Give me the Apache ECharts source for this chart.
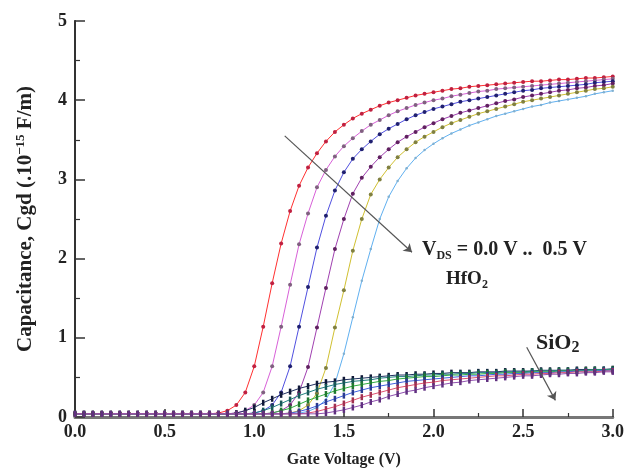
<!DOCTYPE html>
<html>
<head>
<meta charset="utf-8">
<title>Cgd vs Gate Voltage</title>
<script src="https://cdn.jsdelivr.net/npm/echarts@6/dist/echarts.min.js"></script>
<style>
  html, body { margin: 0; padding: 0; background: #fff; }
  #chart { width: 627px; height: 475px; }
</style>
</head>
<body>
<div id="chart"></div>
<script>
// gate voltage (V), one point every 0.05 V
const gateV = [0.00, 0.05, 0.10, 0.15, 0.20, 0.25, 0.30, 0.35, 0.40, 0.45,
  0.50, 0.55, 0.60, 0.65, 0.70, 0.75, 0.80, 0.85, 0.90, 0.95,
  1.00, 1.05, 1.10, 1.15, 1.20, 1.25, 1.30, 1.35, 1.40, 1.45,
  1.50, 1.55, 1.60, 1.65, 1.70, 1.75, 1.80, 1.85, 1.90, 1.95,
  2.00, 2.05, 2.10, 2.15, 2.20, 2.25, 2.30, 2.35, 2.40, 2.45,
  2.50, 2.55, 2.60, 2.65, 2.70, 2.75, 2.80, 2.85, 2.90, 2.95, 3.00]

// HfO2, VDS = 0.0 ... 0.5 V
const hfVds00 = [0.04, 0.04, 0.04, 0.04, 0.04, 0.04, 0.04, 0.04, 0.04, 0.04,
  0.04, 0.04, 0.04, 0.04, 0.04, 0.04, 0.05, 0.08, 0.15, 0.31,
  0.64, 1.14, 1.69, 2.19, 2.60, 2.92, 3.15, 3.33, 3.48, 3.60,
  3.69, 3.77, 3.83, 3.88, 3.93, 3.97, 4.00, 4.03, 4.06, 4.08,
  4.10, 4.12, 4.14, 4.15, 4.17, 4.18, 4.19, 4.20, 4.21, 4.22,
  4.23, 4.24, 4.24, 4.25, 4.26, 4.26, 4.27, 4.28, 4.28, 4.29, 4.30]
const hfVds01 = [0.04, 0.04, 0.04, 0.04, 0.04, 0.04, 0.04, 0.04, 0.04, 0.04,
  0.04, 0.04, 0.04, 0.04, 0.04, 0.04, 0.04, 0.04, 0.05, 0.08,
  0.15, 0.31, 0.64, 1.14, 1.67, 2.18, 2.57, 2.90, 3.12, 3.29,
  3.42, 3.52, 3.61, 3.69, 3.75, 3.81, 3.86, 3.90, 3.94, 3.97,
  4.00, 4.02, 4.05, 4.07, 4.09, 4.11, 4.12, 4.14, 4.15, 4.16,
  4.17, 4.18, 4.19, 4.20, 4.21, 4.22, 4.23, 4.24, 4.25, 4.26, 4.27]
const hfVds02 = [0.04, 0.04, 0.04, 0.04, 0.04, 0.04, 0.04, 0.04, 0.04, 0.04,
  0.04, 0.04, 0.04, 0.04, 0.04, 0.04, 0.04, 0.04, 0.04, 0.04,
  0.05, 0.08, 0.15, 0.31, 0.64, 1.14, 1.64, 2.14, 2.54, 2.86,
  3.09, 3.26, 3.38, 3.48, 3.57, 3.64, 3.70, 3.76, 3.81, 3.85,
  3.89, 3.92, 3.95, 3.98, 4.00, 4.02, 4.04, 4.06, 4.08, 4.10,
  4.12, 4.13, 4.15, 4.16, 4.17, 4.18, 4.19, 4.20, 4.22, 4.23, 4.24]
const hfVds03 = [0.04, 0.04, 0.04, 0.04, 0.04, 0.04, 0.04, 0.04, 0.04, 0.04,
  0.04, 0.04, 0.04, 0.04, 0.04, 0.04, 0.04, 0.04, 0.04, 0.04,
  0.04, 0.04, 0.05, 0.08, 0.15, 0.31, 0.63, 1.13, 1.63, 2.12,
  2.50, 2.82, 3.02, 3.16, 3.28, 3.38, 3.47, 3.54, 3.60, 3.66,
  3.71, 3.76, 3.80, 3.84, 3.87, 3.90, 3.93, 3.96, 3.99, 4.01,
  4.04, 4.06, 4.08, 4.10, 4.12, 4.13, 4.15, 4.16, 4.18, 4.19, 4.21]
const hfVds04 = [0.04, 0.04, 0.04, 0.04, 0.04, 0.04, 0.04, 0.04, 0.04, 0.04,
  0.04, 0.04, 0.04, 0.04, 0.04, 0.04, 0.04, 0.04, 0.04, 0.04,
  0.04, 0.04, 0.04, 0.04, 0.05, 0.08, 0.15, 0.30, 0.62, 1.13,
  1.60, 2.10, 2.50, 2.81, 3.00, 3.15, 3.28, 3.38, 3.47, 3.54,
  3.60, 3.66, 3.71, 3.75, 3.79, 3.83, 3.86, 3.89, 3.92, 3.95,
  3.98, 4.00, 4.02, 4.04, 4.06, 4.08, 4.10, 4.12, 4.14, 4.15, 4.17]
const hfVds05 = [0.04, 0.04, 0.04, 0.04, 0.04, 0.04, 0.04, 0.04, 0.04, 0.04,
  0.04, 0.04, 0.04, 0.04, 0.04, 0.04, 0.04, 0.04, 0.04, 0.04,
  0.04, 0.04, 0.04, 0.04, 0.04, 0.05, 0.07, 0.12, 0.22, 0.42,
  0.80, 1.26, 1.72, 2.12, 2.50, 2.78, 2.98, 3.14, 3.27, 3.37,
  3.45, 3.52, 3.58, 3.63, 3.68, 3.72, 3.76, 3.80, 3.83, 3.86,
  3.89, 3.92, 3.94, 3.97, 3.99, 4.01, 4.03, 4.05, 4.08, 4.10, 4.12]

// SiO2, VDS = 0.0 ... 0.5 V
const siVds00 = [0.04, 0.04, 0.04, 0.04, 0.04, 0.04, 0.04, 0.04, 0.04, 0.04,
  0.04, 0.04, 0.04, 0.04, 0.04, 0.04, 0.04, 0.04, 0.05, 0.08,
  0.12, 0.18, 0.23, 0.28, 0.32, 0.36, 0.39, 0.42, 0.44, 0.45,
  0.47, 0.48, 0.49, 0.50, 0.51, 0.52, 0.53, 0.53, 0.54, 0.54,
  0.55, 0.55, 0.56, 0.56, 0.56, 0.57, 0.57, 0.57, 0.58, 0.58,
  0.58, 0.58, 0.59, 0.59, 0.59, 0.59, 0.60, 0.60, 0.60, 0.60, 0.61]
const siVds01 = [0.04, 0.04, 0.04, 0.04, 0.04, 0.04, 0.04, 0.04, 0.04, 0.04,
  0.04, 0.04, 0.04, 0.04, 0.04, 0.04, 0.04, 0.04, 0.04, 0.04,
  0.05, 0.08, 0.12, 0.17, 0.22, 0.27, 0.31, 0.35, 0.38, 0.41,
  0.43, 0.45, 0.46, 0.47, 0.49, 0.50, 0.51, 0.51, 0.52, 0.53,
  0.53, 0.54, 0.54, 0.55, 0.55, 0.56, 0.56, 0.56, 0.57, 0.57,
  0.57, 0.58, 0.58, 0.58, 0.59, 0.59, 0.59, 0.59, 0.60, 0.60, 0.60]
const siVds02 = [0.04, 0.04, 0.04, 0.04, 0.04, 0.04, 0.04, 0.04, 0.04, 0.04,
  0.04, 0.04, 0.04, 0.04, 0.04, 0.04, 0.04, 0.04, 0.04, 0.04,
  0.04, 0.04, 0.05, 0.08, 0.11, 0.16, 0.21, 0.25, 0.29, 0.33,
  0.36, 0.39, 0.41, 0.43, 0.45, 0.46, 0.48, 0.49, 0.50, 0.51,
  0.51, 0.52, 0.53, 0.53, 0.54, 0.54, 0.55, 0.55, 0.56, 0.56,
  0.56, 0.57, 0.57, 0.57, 0.58, 0.58, 0.58, 0.59, 0.59, 0.59, 0.60]
const siVds03 = [0.04, 0.04, 0.04, 0.04, 0.04, 0.04, 0.04, 0.04, 0.04, 0.04,
  0.04, 0.04, 0.04, 0.04, 0.04, 0.04, 0.04, 0.04, 0.04, 0.04,
  0.04, 0.04, 0.04, 0.04, 0.05, 0.07, 0.10, 0.14, 0.19, 0.23,
  0.27, 0.31, 0.34, 0.37, 0.39, 0.41, 0.43, 0.45, 0.46, 0.47,
  0.48, 0.49, 0.50, 0.51, 0.52, 0.52, 0.53, 0.54, 0.54, 0.55,
  0.55, 0.56, 0.56, 0.56, 0.57, 0.57, 0.58, 0.58, 0.58, 0.59, 0.59]
const siVds04 = [0.04, 0.04, 0.04, 0.04, 0.04, 0.04, 0.04, 0.04, 0.04, 0.04,
  0.04, 0.04, 0.04, 0.04, 0.04, 0.04, 0.04, 0.04, 0.04, 0.04,
  0.04, 0.04, 0.04, 0.04, 0.04, 0.04, 0.05, 0.07, 0.10, 0.13,
  0.17, 0.21, 0.25, 0.28, 0.31, 0.34, 0.37, 0.39, 0.41, 0.43,
  0.44, 0.46, 0.47, 0.48, 0.49, 0.50, 0.51, 0.52, 0.52, 0.53,
  0.54, 0.54, 0.55, 0.55, 0.56, 0.56, 0.57, 0.57, 0.57, 0.58, 0.58]
const siVds05 = [0.04, 0.04, 0.04, 0.04, 0.04, 0.04, 0.04, 0.04, 0.04, 0.04,
  0.04, 0.04, 0.04, 0.04, 0.04, 0.04, 0.04, 0.04, 0.04, 0.04,
  0.04, 0.04, 0.04, 0.04, 0.04, 0.04, 0.04, 0.04, 0.05, 0.07,
  0.09, 0.12, 0.15, 0.19, 0.22, 0.26, 0.29, 0.32, 0.34, 0.37,
  0.39, 0.41, 0.43, 0.44, 0.46, 0.47, 0.48, 0.49, 0.50, 0.51,
  0.52, 0.52, 0.53, 0.54, 0.54, 0.55, 0.55, 0.56, 0.56, 0.57, 0.57]

const hfCurves = [hfVds00, hfVds01, hfVds02, hfVds03, hfVds04, hfVds05]
const siCurves = [siVds00, siVds01, siVds02, siVds03, siVds04, siVds05]
const vdsNames = ['0.0 V', '0.1 V', '0.2 V', '0.3 V', '0.4 V', '0.5 V']

// line colour / marker colour
const hfLine = ['#ff3030', '#d860d8', '#5050e0', '#a040b0', '#d0c030', '#60b0f0']
const hfDot = ['#c02040', '#806080', '#202070', '#602060', '#808040', '#80b0d0']
const siLine = ['#203060', '#208080', '#30b040', '#4060e0', '#e05070', '#9050b0']
const siDot = ['#101838', '#185858', '#207a30', '#2a3a90', '#a03050', '#603080']

const font = 'Liberation Serif'
const ink = '#222'

const pairs = (ys) => gateV.map((v, i) => [v, ys[i]])

const series = []
hfCurves.forEach((ys, k) => {
  series.push({
    name: 'HfO2 ' + vdsNames[k],
    type: 'line',
    data: pairs(ys),
    symbol: 'circle',
    symbolSize: k === 5 ? 2.5 : 4,
    showSymbol: true,
    lineStyle: { color: hfLine[k], width: 1 },
    itemStyle: { color: hfDot[k] },
    z: 2
  })
})
siCurves.forEach((ys, k) => {
  series.push({
    name: 'SiO2 ' + vdsNames[k],
    type: 'line',
    data: pairs(ys),
    symbol: 'rect',
    symbolSize: [2.5, 6],
    lineStyle: { color: siLine[k], width: 1 },
    itemStyle: { color: siDot[k] },
    z: 3
  })
})

// arrows, given in data coordinates
series.push({
  type: 'line',
  data: [],
  silent: true,
  markLine: {
    silent: true,
    symbol: ['none', 'arrow'],
    symbolSize: 8,
    label: { show: false },
    lineStyle: { color: '#555', width: 1.2, type: 'solid' },
    data: [
      [{ coord: [1.17, 3.55] }, { coord: [1.88, 2.08] }],
      [{ coord: [2.52, 0.88] }, { coord: [2.68, 0.21] }]
    ]
  }
})

const chart = echarts.init(document.getElementById('chart'))

chart.setOption({
  backgroundColor: '#fff',
  animation: false,
  grid: { left: 75, right: 14, top: 21, bottom: 58 },
  xAxis: [{
    type: 'value',
    min: 0,
    max: 3,
    interval: 0.5,
    name: 'Gate Voltage (V)',
    nameLocation: 'middle',
    nameGap: 35,
    nameTextStyle: { fontFamily: font, fontWeight: 'bold', fontSize: 16, color: ink },
    axisLine: { lineStyle: { color: '#333', width: 2 } },
    axisTick: { inside: true, length: 8, lineStyle: { color: '#333', width: 1.5 } },
    minorTick: { show: true, splitNumber: 2, length: 4, lineStyle: { color: '#333', width: 1.2 } },
    axisLabel: {
      fontFamily: font, fontWeight: 'bold', fontSize: 18, color: ink, margin: 6,
      formatter: (v) => v.toFixed(1)
    },
    splitLine: { show: false }
  }, {
    type: 'value',
    position: 'top',
    min: 0,
    max: 3,
    axisLine: { lineStyle: { color: '#777', width: 3 } },
    axisTick: { show: false },
    axisLabel: { show: false },
    splitLine: { show: false }
  }],
  yAxis: [{
    type: 'value',
    min: 0,
    max: 5,
    interval: 1,
    name: 'Capacitance, Cgd (.10{sup|−15} F/m)',
    nameLocation: 'middle',
    nameGap: 38,
    nameTextStyle: {
      fontFamily: font, fontWeight: 'bold', fontSize: 21, color: ink,
      rich: {
        sup: { fontFamily: font, fontWeight: 'bold', fontSize: 13, color: ink, padding: [0, 0, 10, 0] }
      }
    },
    axisLine: { lineStyle: { color: '#333', width: 2 } },
    axisTick: { inside: true, length: 10, lineStyle: { color: '#333', width: 1.5 } },
    minorTick: { show: true, splitNumber: 2, length: 5, lineStyle: { color: '#333', width: 1.2 } },
    axisLabel: { fontFamily: font, fontWeight: 'bold', fontSize: 18, color: ink, margin: 8 },
    splitLine: { show: false }
  }, {
    type: 'value',
    position: 'right',
    min: 0,
    max: 5,
    axisLine: { show: true, lineStyle: { color: '#333', width: 1.5 } },
    axisTick: { show: false },
    axisLabel: { show: false },
    splitLine: { show: false }
  }],
  // annotation texts
  graphic: [{
    type: 'text',
    left: 422,
    top: 240,
    style: {
      text: 'V{sub|DS} = 0.0 V ..  0.5 V',
      font: 'bold 20px "Liberation Serif"',
      fill: ink,
      rich: { sub: { font: 'bold 12px "Liberation Serif"', fill: ink, padding: [12, 0, 0, 0] } }
    }
  }, {
    type: 'text',
    left: 446,
    top: 270,
    style: {
      text: 'HfO{sub|2}',
      font: 'bold 19px "Liberation Serif"',
      fill: ink,
      rich: { sub: { font: 'bold 12px "Liberation Serif"', fill: ink, padding: [11, 0, 0, 0] } }
    }
  }, {
    type: 'text',
    left: 536,
    top: 332,
    style: {
      text: 'SiO{sub|2}',
      font: 'bold 22px "Liberation Serif"',
      fill: ink,
      rich: { sub: { font: 'bold 16px "Liberation Serif"', fill: ink, padding: [10, 0, 0, 0] } }
    }
  }],
  series: series
})
</script>
</body>
</html>
